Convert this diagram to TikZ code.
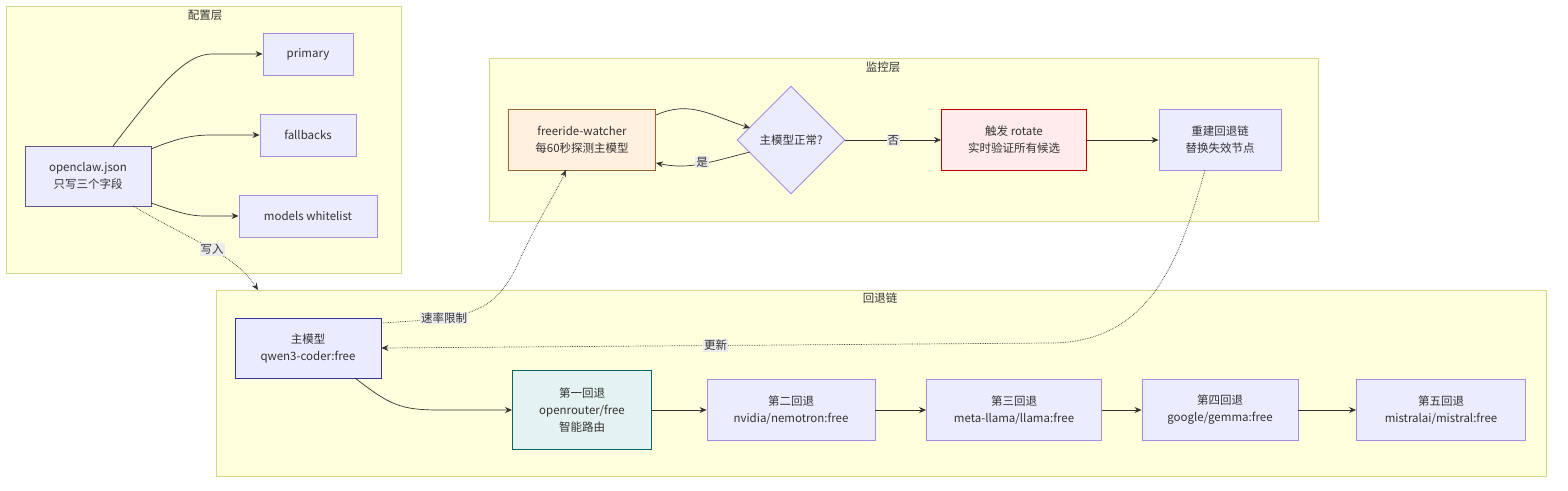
\documentclass[tikz,border=0pt]{standalone}
\usepackage{fontspec}
\setmainfont{Noto Sans CJK SC}
\usetikzlibrary{shapes.geometric,arrows.meta}
\definecolor{clf}{HTML}{FFFFDE}
\definecolor{cld}{HTML}{D6D68A}
\definecolor{nf}{HTML}{ECECFF}
\definecolor{nd}{HTML}{A98BE0}
\definecolor{ln}{HTML}{333333}
\begin{document}
\begin{tikzpicture}[x=1pt,y=-1pt,
  every node/.style={font=\fontsize{11.5}{17}\selectfont,text=ln},
  cluster/.style={draw=cld,fill=clf,line width=0.9pt},
  box/.style={draw=nd,fill=nf,line width=0.9pt,align=center,inner sep=0pt},
  arr/.style={draw=ln,line width=0.7pt,-{Stealth[length=7pt,width=6pt]}},
  dot/.style={arr,densely dotted},
  lbl/.style={fill=black!8,inner sep=1pt}]
\useasboundingbox (0,0) rectangle (1568,490);
% clusters
\draw[cluster] (6,6) rectangle (401,273);
\node (t1) at (205,15) {配置层};
\draw[cluster] (489,58) rectangle (1318,221);
\node (t2) at (883,67) {监控层};
\draw[cluster] (216,290) rectangle (1546,476);
\node (t3) at (880,298) {回退链};
% config
\node[box,draw=black!40!nd,minimum width=126pt,minimum height=60pt] (oc) at (88,176) {openclaw.json\\只写三个字段};
\node[box,minimum width=90pt,minimum height=42pt] (pr) at (308,54) {primary};
\node[box,minimum width=96pt,minimum height=42pt] (fb) at (308,135) {fallbacks};
\node[box,minimum width=138pt,minimum height=42pt] (mw) at (308,216) {models whitelist};
% monitor
\node[box,draw=brown!80!black,fill=orange!12,minimum width=147pt,minimum height=61pt] (fw) at (582,140) {freeride-watcher\\每60秒探测主模型};
\node[diamond,draw=nd,fill=nf,line width=0.9pt,minimum width=108pt,minimum height=108pt,inner sep=0pt,aspect=1] (dm) at (791,140) {主模型正常?};
\node[box,draw=red!75!black,fill=red!8,minimum width=145pt,minimum height=61pt] (ro) at (1014,140) {触发 rotate\\实时验证所有候选};
\node[box,minimum width=122pt,minimum height=61pt] (rb) at (1220,140) {重建回退链\\替换失效节点};
% chain
\node[box,draw=blue!50!black!80,fill=blue!8,minimum width=146pt,minimum height=60pt] (mm) at (308,348) {主模型\\qwen3-coder:free};
\node[box,draw=teal!80!black,fill=teal!10,minimum width=139pt,minimum height=79pt] (f1) at (582,410) {第一回退\\openrouter/free\\智能路由};
\node[box,minimum width=168pt,minimum height=61pt] (f2) at (791,410) {第二回退\\nvidia/nemotron:free};
\node[box,minimum width=175pt,minimum height=61pt] (f3) at (1014,410) {第三回退\\meta-llama/llama:free};
\node[box,minimum width=156pt,minimum height=61pt] (f4) at (1220,410) {第四回退\\google/gemma:free};
\node[box,minimum width=169pt,minimum height=61pt] (f5) at (1441,410) {第五回退\\mistralai/mistral:free};
% edges config
\draw[arr] (113,146) .. controls (160,85) and (185,54) .. (212,54) -- (pr.west);
\draw[arr] (151,149) .. controls (180,137) and (195,135) .. (212,135) -- (fb.west);
\draw[arr] (151,203) .. controls (180,213) and (190,216) .. (205,216) -- (mw.west);
\draw[dot] (133,206) .. controls (200,245) and (235,255) .. (258,290) node[pos=0.5,lbl] (l1) {写入};
% edges monitor
\draw[arr] (656,115) .. controls (690,100) and (710,115) .. (750,128);
\draw[arr] (750,152) .. controls (710,162) and (690,170) .. (656,163);
\node[lbl] (l2) at (702,162) {是};
\draw[arr] (dm.east) -- node[lbl] (l3) {否} (ro.west);
\draw[arr] (ro.east) -- (rb.west);
% cross
\draw[dot] (1205,170) .. controls (1180,260) and (1150,343) .. (1050,343) -- (mm.east) node[pos=0.5,lbl] (l4) {更新};
\draw[dot] (mm.east |- 0,323) .. controls (460,318) and (490,318) .. (515,270) .. controls (540,215) and (555,195) .. (566,170);
\node[lbl] (l5) at (444,318) {速率限制};
\draw[arr] (355,378) .. controls (390,405) and (400,410) .. (440,410) -- (f1.west);
\draw[arr] (f1.east) -- (f2.west);
\draw[arr] (f2.east) -- (f3.west);
\draw[arr] (f3.east) -- (f4.west);
\draw[arr] (f4.east) -- (f5.west);
\end{tikzpicture}
\end{document}
